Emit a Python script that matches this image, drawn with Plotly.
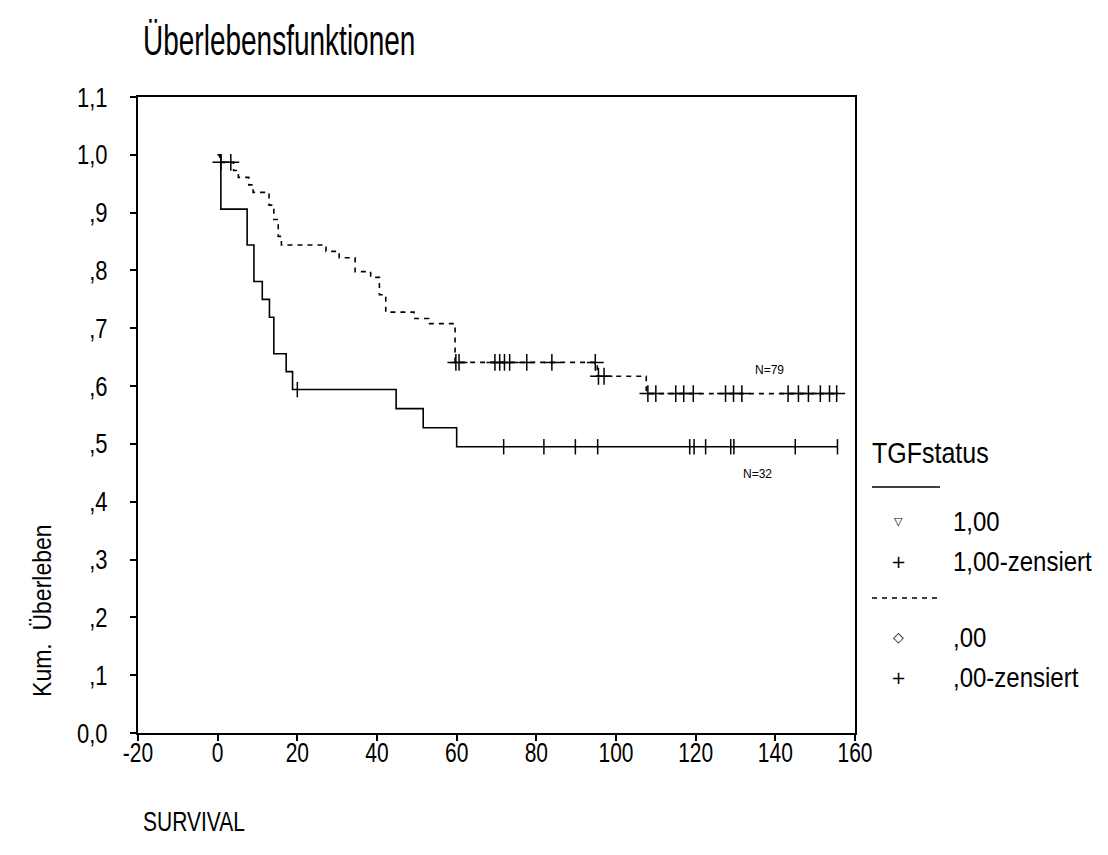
import json
import numpy as np
import plotly.graph_objects as go

# Kaplan-Meier step curves, TGF status groups
t_pos = [0, 0.8, 7.4, 9.1, 11.2, 13.0, 14.1, 17.2, 18.8, 44.8, 51.6, 60.0, 155.6]
s_pos = [1.0, 0.906, 0.844, 0.781, 0.750, 0.719, 0.656, 0.625, 0.594, 0.561, 0.528, 0.495, 0.495]
cens_pos = [20.0, 71.8, 81.9, 89.8, 95.4, 118.5, 119.6, 122.5, 128.8, 129.6, 145.0, 155.6]

t_neg = [0, 0.5, 4.0, 5.2, 7.8, 8.9, 12.9, 14.1, 15.2, 16.0, 27.2, 30.5, 34.5, 38.4,
         40.6, 42.2, 49.3, 53.0, 59.6, 95.3, 107.6, 155.5]
s_neg = [1.0, 0.987, 0.973, 0.961, 0.948, 0.935, 0.913, 0.888, 0.859, 0.844, 0.833, 0.822,
         0.798, 0.788, 0.758, 0.728, 0.717, 0.708, 0.641, 0.617, 0.587, 0.587]
cens_neg = [0.8, 3.3, 59.8, 60.6, 69.6, 70.8, 72.0, 73.3, 77.6, 83.9, 94.8, 95.6, 97.0,
            108.0, 110.0, 115.0, 117.0, 119.4, 127.5, 129.5, 131.6, 143.2, 145.8, 148.3,
            151.3, 153.6, 155.4]

x_ticks = [-20, 0, 20, 40, 60, 80, 100, 120, 140, 160]
y_ticks = [0.0, 0.1, 0.2, 0.3, 0.4, 0.5, 0.6, 0.7, 0.8, 0.9, 1.0, 1.1]
y_tick_text = ["0,0", ",1", ",2", ",3", ",4", ",5", ",6", ",7", ",8", ",9", "1,0", "1,1"]

legend_labels = ["1,00", "1,00-zensiert", ",00", ",00-zensiert"]


def step_value(times, surv, t):
    idx = np.searchsorted(np.asarray(times), t, side="right") - 1
    return np.asarray(surv)[idx]


FONT = "Liberation Sans, Arial, sans-serif"
W, H = 1108, 855
L, R, T, B = 138, 855, 97, 733


def px(x):
    return (x - L) / (R - L)


def py(y):
    return (B - y) / (B - T)


fig = go.Figure()

fig.add_trace(go.Scatter(x=t_pos, y=s_pos, mode="lines", line=dict(color="black", width=1.6, shape="hv"),
                         showlegend=False, hoverinfo="skip"))
fig.add_trace(go.Scatter(x=cens_pos, y=step_value(t_pos, s_pos, cens_pos), mode="markers",
                         marker=dict(symbol="line-ns", size=11, line=dict(color="black", width=1.5)),
                         showlegend=False, hoverinfo="skip"))

fig.add_trace(go.Scatter(x=t_neg, y=s_neg, mode="lines",
                         line=dict(color="black", width=1.6, shape="hv", dash="5px,5px"),
                         showlegend=False, hoverinfo="skip"))
fig.add_trace(go.Scatter(x=cens_neg, y=step_value(t_neg, s_neg, cens_neg), mode="markers",
                         marker=dict(symbol="cross-thin", size=12, line=dict(color="black", width=1.5)),
                         showlegend=False, hoverinfo="skip"))

# annotations, each with a vertical glyph stretch factor
annotations = []
stretch = {}


def add_text(k=1.0, **kw):
    stretch[len(annotations)] = k
    annotations.append(kw)


add_text(text="N=79", x=138.6, y=0.628, xref="x", yref="y", showarrow=False,
         font=dict(family=FONT, size=12, color="black"))
add_text(text="N=32", x=135.4, y=0.448, xref="x", yref="y", showarrow=False,
         font=dict(family=FONT, size=12, color="black"))
add_text(1.5, text="Überlebensfunktionen", x=px(141), y=py(40), xref="paper", yref="paper",
         xanchor="left", yanchor="middle", showarrow=False,
         font=dict(family=FONT, size=28, color="black"))
add_text(1.15, text="Kum.  Überleben", x=px(42), y=py(611), xref="paper", yref="paper",
         xanchor="center", yanchor="middle", textangle=-90, showarrow=False,
         font=dict(family=FONT, size=23, color="black"))
add_text(1.3, text="SURVIVAL", x=px(141), y=py(821), xref="paper", yref="paper",
         xanchor="left", yanchor="middle", showarrow=False,
         font=dict(family=FONT, size=21, color="black"))
add_text(1.2, text="TGFstatus", x=px(870), y=py(452), xref="paper", yref="paper",
         xanchor="left", yanchor="middle", showarrow=False,
         font=dict(family=FONT, size=25, color="black"))

legend_rows = [521, 561, 637, 677]
legend_glyphs = [("▽", 11), ("+", 18), ("◇", 14), ("+", 18)]
for label, ypx, (glyph, gsize) in zip(legend_labels, legend_rows, legend_glyphs):
    add_text(text=glyph, x=px(898), y=py(ypx), xref="paper", yref="paper",
             xanchor="center", yanchor="middle", showarrow=False,
             font=dict(family="DejaVu Sans, " + FONT, size=gsize, color="black"))
    add_text(1.15, text=label, x=px(951), y=py(ypx), xref="paper", yref="paper",
             xanchor="left", yanchor="middle", showarrow=False,
             font=dict(family=FONT, size=24, color="black"))

shapes = [
    dict(type="line", xref="paper", yref="paper", x0=px(872), x1=px(940), y0=py(487), y1=py(487),
         line=dict(color="black", width=1.5)),
    dict(type="line", xref="paper", yref="paper", x0=px(872), x1=px(940), y0=py(598), y1=py(598),
         line=dict(color="black", width=1.5, dash="5px,5px")),
]

axis_common = dict(showline=True, linecolor="black", linewidth=2, mirror=True, ticks="outside",
                   ticklen=6, tickwidth=2, tickcolor="black", showgrid=False, zeroline=False)

fig.update_layout(
    width=W, height=H,
    margin=dict(l=L, r=W - R, t=T, b=H - B),
    paper_bgcolor="white", plot_bgcolor="white",
    showlegend=False,
    xaxis=dict(range=[-20, 160], tickvals=x_ticks, ticktext=[str(v) for v in x_ticks],
               tickfont=dict(family=FONT, size=21, color="black"), ticklabelstandoff=-6,
               **axis_common),
    yaxis=dict(range=[0, 1.1], tickvals=y_ticks, ticktext=y_tick_text,
               tickfont=dict(family=FONT, size=22, color="black"), ticklabelstandoff=18,
               **axis_common),
    annotations=annotations,
    shapes=shapes,
)

# Taller, narrower glyphs: stretch text vertically about its own centre
post_script = """
var gd = document.getElementById('{plot_id}');
var annStretch = %s;
function stretchY(el, k) {
  if (!el || k === 1) return;
  var b = el.getBBox();
  var cx = b.x + b.width / 2, cy = b.y + b.height / 2;
  var tr = el.getAttribute('transform') || '';
  el.setAttribute('transform', tr + ' translate(' + cx + ',' + cy + ') scale(1,' + k + ') translate(' + (-cx) + ',' + (-cy) + ')');
}
gd.querySelectorAll('.xtick text').forEach(function (t) { stretchY(t, 1.3); });
gd.querySelectorAll('.ytick text').forEach(function (t) { stretchY(t, 1.25); });
gd.querySelectorAll('g.annotation').forEach(function (g) {
  var k = annStretch[g.getAttribute('data-index')];
  if (k) stretchY(g.querySelector('text.annotation-text'), k);
});
""" % json.dumps({str(i): k for i, k in stretch.items()})

fig.write_html("out.html", post_script=post_script)
